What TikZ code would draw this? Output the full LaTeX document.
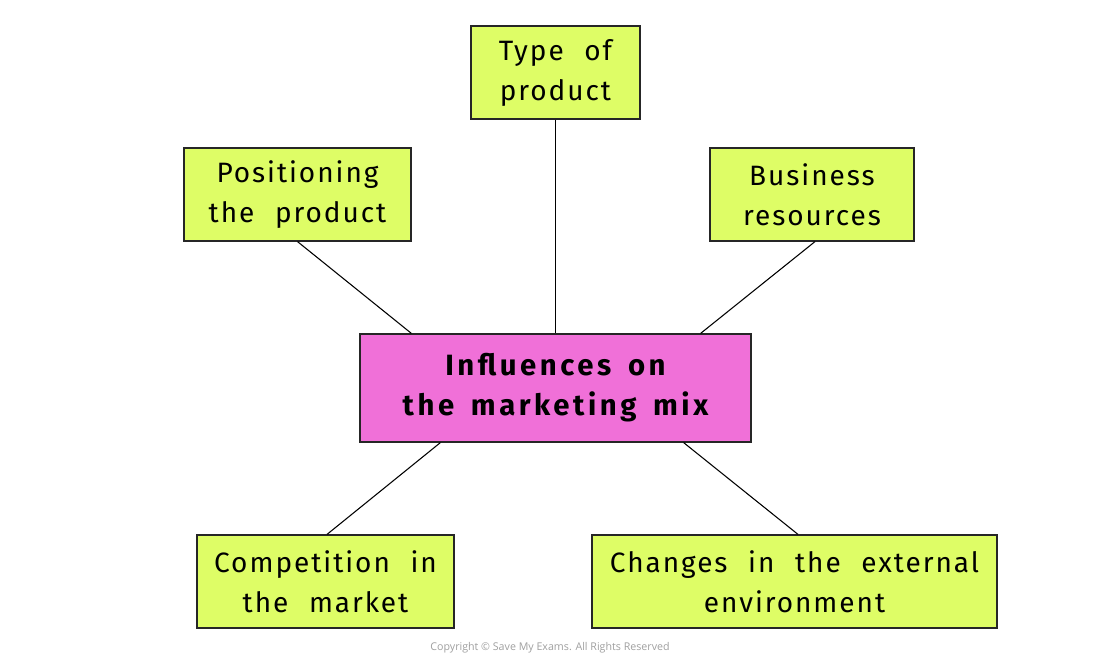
\documentclass[tikz,border=0pt]{standalone}
\usepackage{fontspec}
\setmainfont{Fira Sans}[LetterSpace=7,WordSpace=2.2]
\newfontfamily\hubfont{Fira Sans}[LetterSpace=12,WordSpace=1.6]
\newfontfamily\copyfont{Open Sans}
\usetikzlibrary{calc}
\definecolor{boxyellow}{RGB}{222,253,102}
\definecolor{boxpink}{RGB}{240,112,216}
\definecolor{copygray}{RGB}{160,160,160}
\tikzset{
  leaf/.style={draw=black!85, line width=0.9pt, fill=boxyellow, align=center, inner sep=0pt,
    font=\fontsize{21}{30}\selectfont},
  hub/.style={draw=black!85, line width=0.9pt, fill=boxpink, align=center, inner sep=0pt,
    font=\hubfont\fontsize{22}{30}\selectfont\bfseries},
  link/.style={draw=black, line width=0.8pt}
}
\begin{document}
\begin{tikzpicture}[x=0.75pt,y=-0.75pt]
\useasboundingbox[fill=white] (0,0) rectangle (1100,666);
\node[hub, minimum width=391*0.75pt, minimum height=108*0.75pt] (c) at (555.5,388) {Influences on\\the marketing mix};
\node[leaf, minimum width=169*0.75pt, minimum height=93*0.75pt] (type) at (555.5,72.5) {Type of\\product};
\node[leaf, minimum width=227*0.75pt, minimum height=93*0.75pt] (pos) at (297.5,194.5) {Positioning\\the product};
\node[leaf, minimum width=204*0.75pt, minimum height=93*0.75pt] (bus) at (812,194.5) {Business\\resources};
\node[leaf, minimum width=257*0.75pt, minimum height=93*0.75pt] (comp) at (325.5,581.5) {Competition in\\the market};
\node[leaf, minimum width=405*0.75pt, minimum height=93*0.75pt] (chg) at (794.5,581.5) {Changes in the external\\environment};
\node[font=\copyfont\fontsize{8}{10}\selectfont, text=copygray] (copy) at (550,648) {Copyright \textcopyright{} Save My Exams. All Rights Reserved};
\draw[link] (type.south) -- (c.north);
\draw[link] (pos.south) -- ($(c.north west)+(52,0)$);
\draw[link] ($(bus.south)+(3,0)$) -- ($(c.north east)+(-51,0)$);
\draw[link] ($(c.south west)+(81,0)$) -- ($(comp.north)+(1.5,0)$);
\draw[link] ($(c.south east)+(-68,0)$) -- ($(chg.north)+(3.5,0)$);
\end{tikzpicture}
\end{document}
